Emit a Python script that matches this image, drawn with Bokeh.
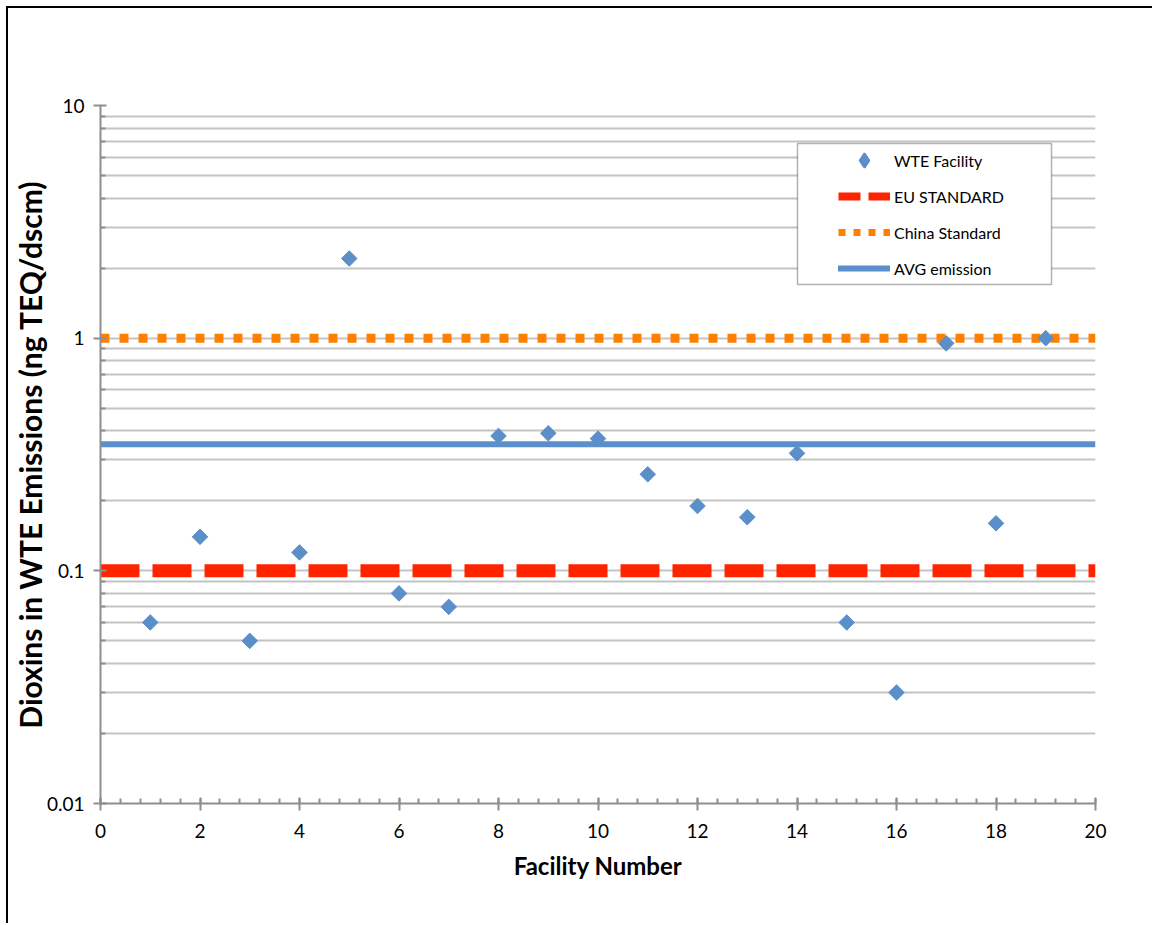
import math
from bokeh.plotting import figure
from bokeh.models import (Legend, LegendItem, FixedTicker, SingleIntervalTicker,
                          CustomJSTickFormatter, BoxAnnotation, Range1d)
from bokeh.embed import file_html
from bokeh.resources import INLINE

# ---- data ----
facility = list(range(1, 20))
emissions = [0.06, 0.14, 0.05, 0.12, 2.2, 0.08, 0.07, 0.38, 0.39, 0.37,
             0.26, 0.19, 0.17, 0.32, 0.06, 0.03, 0.95, 0.16, 1.0]
eu_standard = 0.1
china_standard = 1.0
avg_emission = 0.35
x_extent = [0, 20]
y_major = [0.01, 0.1, 1, 10]
y_minor = [m * 10.0 ** e for e in (-2, -1, 0) for m in range(2, 10)]

FONT = "Lato"
GRID = "#c4c4c4"
AXIS = "#8e8e8e"
BLUE = "#5b8fc9"
RED = "#ff2400"
ORANGE = "#ff8000"

p = figure(width=1146, height=917, output_backend="svg", toolbar_location=None,
           y_axis_type="log", x_range=Range1d(0, 20), y_range=Range1d(0.01, 10),
           min_border_left=92, min_border_top=97, min_border_right=59,
           min_border_bottom=122,
           styles={"margin-left": "6px", "margin-top": "6px",
                   "border-left": "2px solid black", "border-top": "2px solid black"})
p.outline_line_color = None
p.background_fill_color = "white"
p.border_fill_color = "white"

# axes
p.xaxis.ticker = SingleIntervalTicker(interval=2, num_minor_ticks=5)
p.yaxis.ticker = FixedTicker(ticks=y_major, minor_ticks=y_minor)
p.yaxis.formatter = CustomJSTickFormatter(code="return String(Number(tick.toPrecision(6)));")
for ax in (p.xaxis, p.yaxis):
    ax.axis_line_color = AXIS
    ax.axis_line_width = 2
    ax.major_tick_line_color = AXIS
    ax.major_tick_line_width = 2
    ax.minor_tick_line_color = AXIS
    ax.minor_tick_line_width = 2
    ax.major_tick_in = 6
    ax.major_tick_out = 7
    ax.minor_tick_in = 5
    ax.minor_tick_out = 0
    ax.major_label_text_font = FONT
    ax.major_label_text_font_size = "19px"
    ax.major_label_text_color = "black"
    ax.axis_label_text_font = FONT
    ax.axis_label_text_font_style = "bold"
    ax.axis_label_text_color = "black"
p.xaxis.axis_label = "Facility Number"
p.xaxis.axis_label_text_font_size = "24px"
p.xaxis.major_label_standoff = 13
p.xaxis.axis_label_standoff = 10
p.yaxis.axis_label = "Dioxins in WTE Emissions (ng TEQ/dscm)"
p.yaxis.axis_label_text_font_size = "30px"
p.yaxis.major_label_standoff = 9
p.yaxis.axis_label_standoff = -4

p.xgrid.grid_line_color = None
p.ygrid.grid_line_color = GRID
p.ygrid.grid_line_width = 2
p.ygrid.minor_grid_line_color = GRID
p.ygrid.minor_grid_line_width = 2

# reference lines
eu = p.line(x_extent, [eu_standard] * 2, line_color=RED, line_width=13,
            line_dash="39 13", line_cap="butt")
cn = p.line(x_extent, [china_standard] * 2, line_color=ORANGE, line_width=9,
            line_dash="9 10", line_cap="butt")
av = p.line(x_extent, [avg_emission] * 2, line_color=BLUE, line_width=6)

pts = p.scatter(facility, emissions, marker="square", size=11, angle=math.pi / 4,
                fill_color=BLUE, line_color=BLUE, line_width=1)

# hidden renderers that only supply the legend glyph styles
pts_leg = p.scatter(facility, emissions, marker="diamond", fill_color=BLUE,
                    line_color=BLUE, line_width=2, visible=False)
eu_leg = p.line(x_extent, [eu_standard] * 2, line_color=RED, line_width=8,
                line_dash="22 8", line_cap="butt", visible=False)
cn_leg = p.line(x_extent, [china_standard] * 2, line_color=ORANGE, line_width=7,
                line_dash="7 8", line_cap="butt", visible=False)
av_leg = p.line(x_extent, [avg_emission] * 2, line_color=BLUE, line_width=6,
                line_cap="round", visible=False)

box = BoxAnnotation(left=697, right=951, bottom=519, top=660,
                    left_units="screen", right_units="screen",
                    bottom_units="screen", top_units="screen",
                    fill_color="white", fill_alpha=1.0,
                    line_color="black", line_width=1.5, level="annotation")
p.add_layout(box)

legend = Legend(items=[
    LegendItem(label="WTE Facility", renderers=[pts_leg]),
    LegendItem(label="EU STANDARD", renderers=[eu_leg]),
    LegendItem(label="China Standard", renderers=[cn_leg]),
    LegendItem(label="AVG emission", renderers=[av_leg]),
], location=(738, 517), padding=0, margin=0, spacing=0, glyph_width=52,
    glyph_height=36, label_standoff=4, label_text_font=FONT,
    label_text_font_size="16px", label_text_color="black",
    border_line_alpha=0, background_fill_alpha=0,
    click_policy="none", inactive_fill_alpha=0)
p.add_layout(legend)

open("out.html", "w").write(file_html(p, INLINE))
